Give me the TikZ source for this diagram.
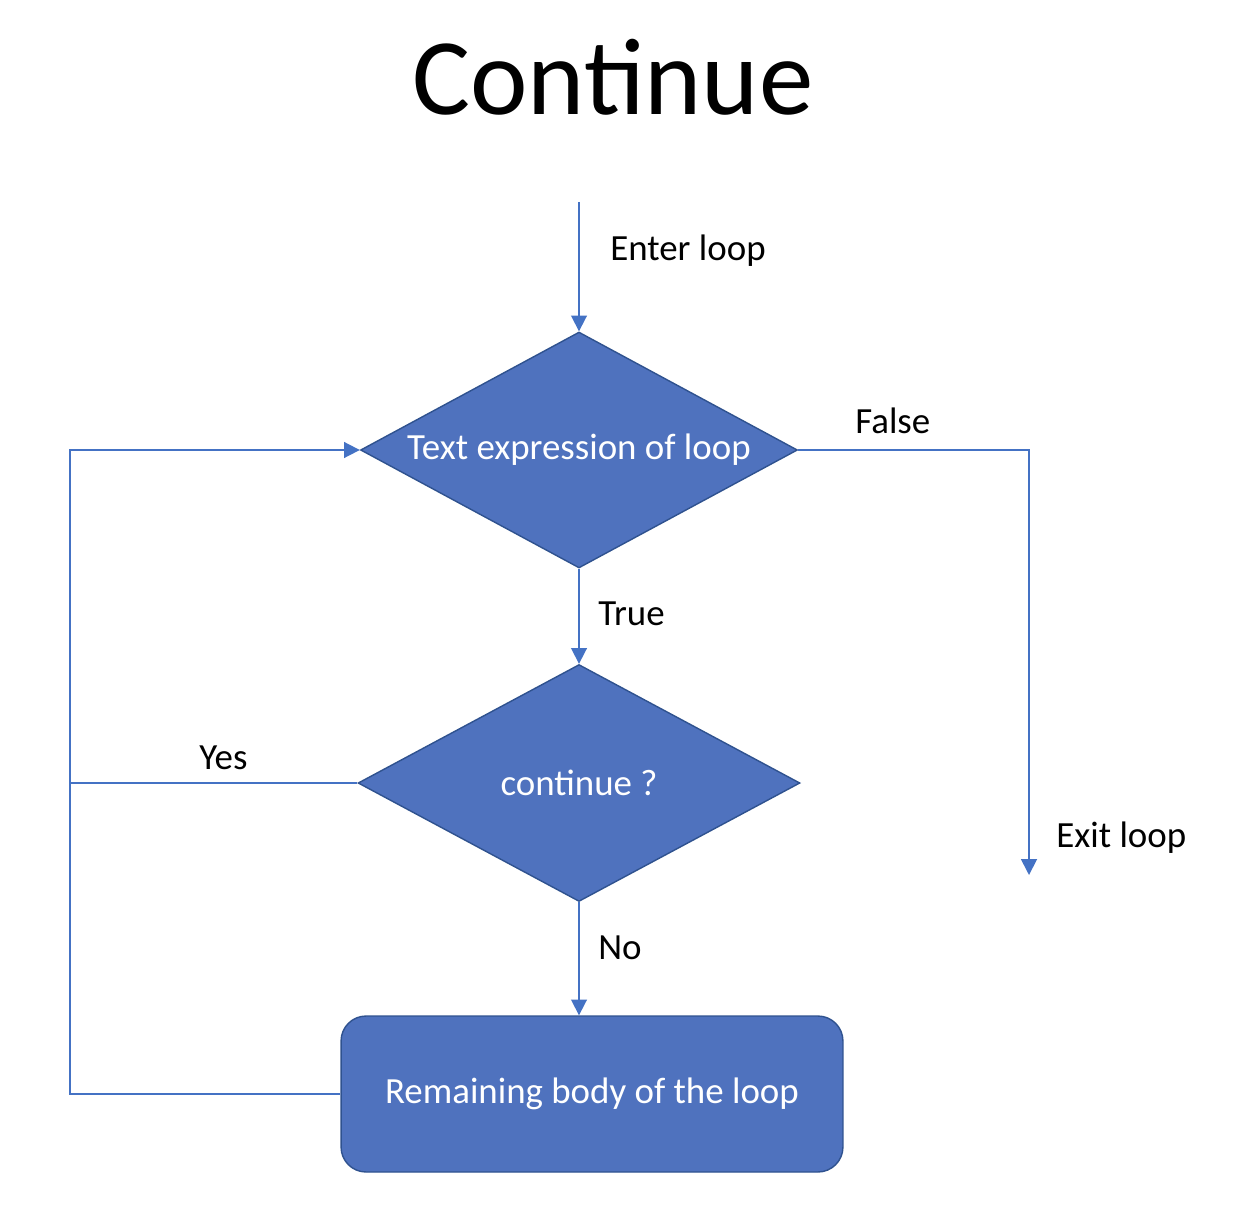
\documentclass[tikz,border=0pt]{standalone}
\usepackage{fontspec}
\setmainfont{Carlito}
\usetikzlibrary{shapes.geometric, arrows.meta}
\definecolor{boxblue}{RGB}{79,114,190}
\definecolor{edgeblue}{RGB}{47,82,143}
\definecolor{lineblue}{RGB}{68,114,196}

\begin{document}
\begin{tikzpicture}[
    x=0.02cm, y=-0.02cm,
    >={Triangle[length=9pt,width=9pt]},
    decision/.style={diamond, draw=edgeblue, fill=boxblue, line width=0.8pt,
        inner sep=0pt, aspect=1.85, text=white, font=\fontsize{21}{25}\selectfont},
    process/.style={rectangle, rounded corners=0.5cm, draw=edgeblue, fill=boxblue,
        line width=0.8pt, minimum width=10.04cm, minimum height=3.12cm,
        text=white, font=\fontsize{21}{25}\selectfont},
    flow/.style={draw=lineblue, line width=1pt},
    lbl/.style={anchor=base west, inner sep=0pt, font=\fontsize{21}{25}\selectfont}
]
\useasboundingbox (0,0) rectangle (1246,1216);

\node[anchor=base west, inner sep=0pt, font=\fontsize{62}{70}\selectfont] (title) at (412,115) {Continue};

\node[decision, minimum width=8.74cm, minimum height=4.72cm] (cond) at (579,450) {Text expression of loop};
\node[decision, minimum width=8.84cm, minimum height=4.74cm] (cont) at (579,783) {continue ?};
\node[process] (body) at (592,1094) {Remaining body of the loop};

\coordinate (enter) at (579,202);
\coordinate (exit) at (1029,875);
\coordinate (back) at (70,1094);

\draw[flow, ->] (enter) -- (cond.north);
\draw[flow, ->] (cond.south) -- (cont.north);
\draw[flow, ->] (cont.south) -- (cont.south |- body.north);
\draw[flow, ->] (cond.east) -| (exit);
\draw[flow] (cont.west) -- (cont.west -| back);
\draw[flow, ->] (body.west) -- (back) |- (cond.west);

\node[lbl] (enterlbl) at (610,261) {Enter loop};
\node[lbl] (falselbl) at (855,433) {False};
\node[lbl] (truelbl) at (598,625) {True};
\node[lbl] (yeslbl) at (199,769) {Yes};
\node[lbl] (nolbl) at (598,959) {No};
\node[lbl] (exitlbl) at (1056,847) {Exit loop};

\end{tikzpicture}
\end{document}
